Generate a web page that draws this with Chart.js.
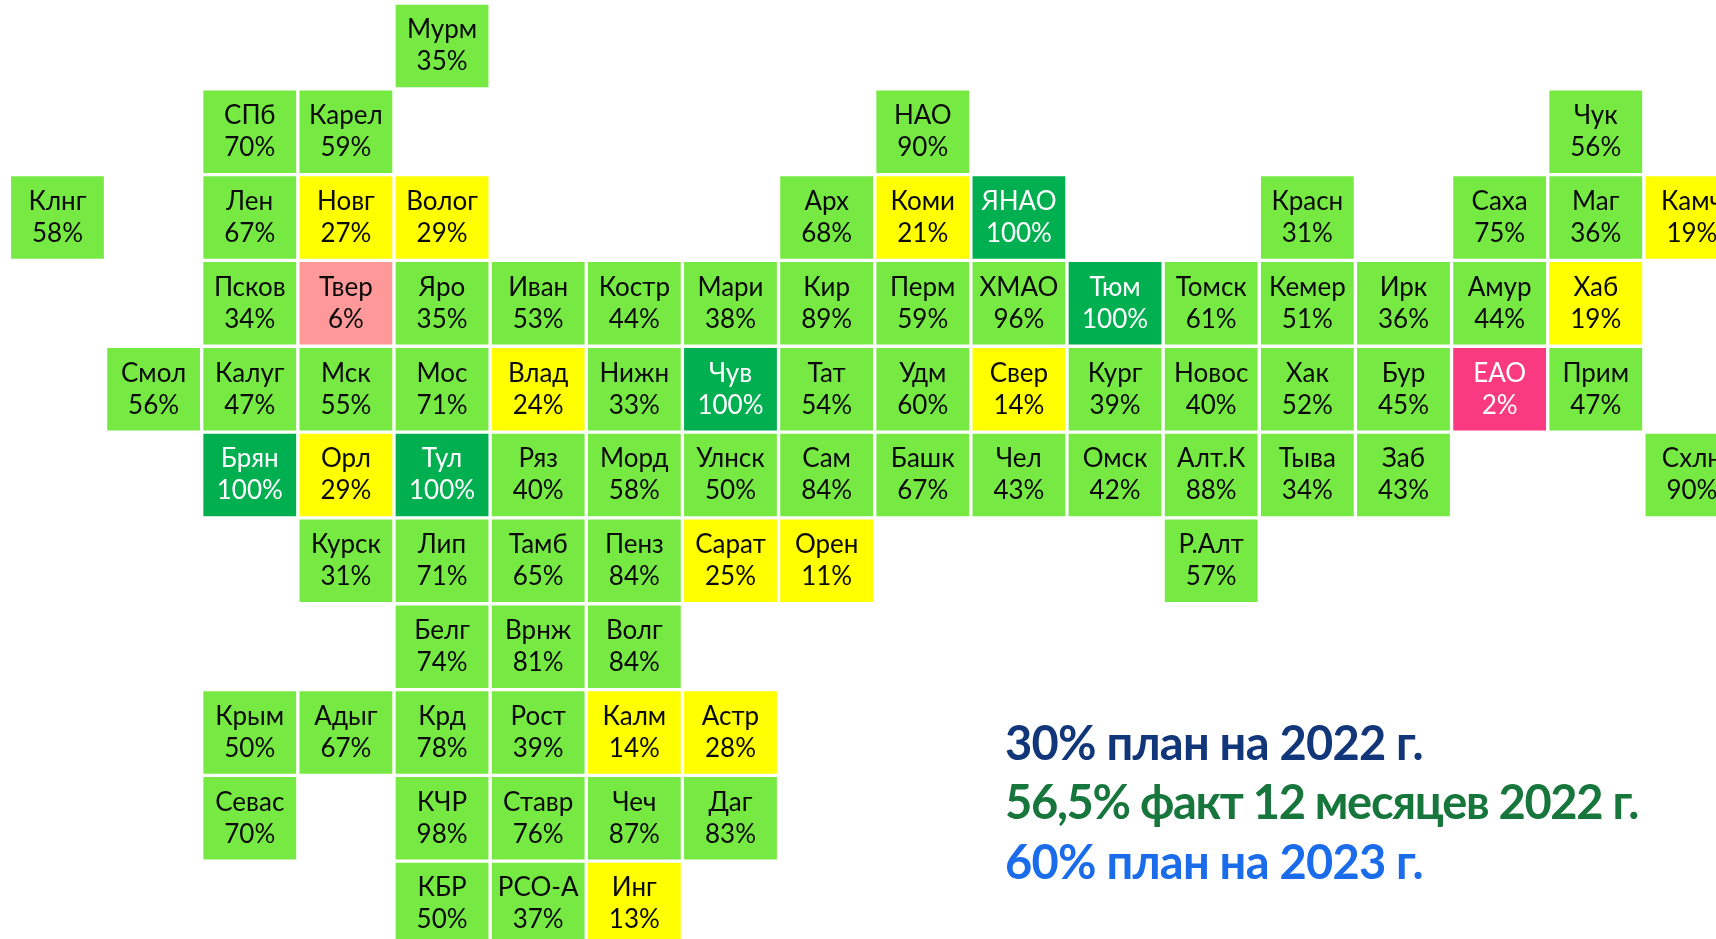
<!DOCTYPE html>
<html lang="ru"><head><meta charset="utf-8">
<style>html,body{margin:0;padding:0;background:#fff;overflow:hidden;width:1716px;height:939px}canvas{display:block}</style>
<script src="https://cdn.jsdelivr.net/npm/chart.js@4"></script></head><body>
<canvas id="c" width="1740" height="947" style="width:1740px;height:947px"></canvas>
<script>
const columnLabels = ['0','1','2','3','4','5','6','7','8','9','10','11','12','13','14','15','16','17'];
const regionNames = ['Мурм','СПб','Карел','НАО','Чук','Клнг','Лен','Новг','Волог','Арх','Коми','ЯНАО','Красн','Саха','Маг','Камч','Псков','Твер','Яро','Иван','Костр','Мари','Кир','Перм','ХМАО','Тюм','Томск','Кемер','Ирк','Амур','Хаб','Смол','Калуг','Мск','Мос','Влад','Нижн','Чув','Тат','Удм','Свер','Кург','Новос','Хак','Бур','ЕАО','Прим','Брян','Орл','Тул','Ряз','Морд','Улнск','Сам','Башк','Чел','Омск','Алт.К','Тыва','Заб','Схлн','Курск','Лип','Тамб','Пенз','Сарат','Орен','Р.Алт','Белг','Врнж','Волг','Крым','Адыг','Крд','Рост','Калм','Астр','Севас','КЧР','Ставр','Чеч','Даг','КБР','РСО-А','Инг'];
const regionValues = [35,70,59,90,56,58,67,27,29,68,21,100,31,75,36,19,34,6,35,53,44,38,89,59,96,100,61,51,36,44,19,56,47,55,71,24,33,100,54,60,14,39,40,52,45,2,47,100,29,100,40,58,50,84,67,43,42,88,34,43,90,31,71,65,84,25,11,57,74,81,84,50,67,78,39,14,28,70,98,76,87,83,50,37,13];
const regionCols = [4,2,3,9,16,0,2,3,4,8,9,10,13,15,16,17,2,3,4,5,6,7,8,9,10,11,12,13,14,15,16,1,2,3,4,5,6,7,8,9,10,11,12,13,14,15,16,2,3,4,5,6,7,8,9,10,11,12,13,14,17,3,4,5,6,7,8,12,4,5,6,2,3,4,5,6,7,2,4,5,6,7,4,5,6];
const regionRows = [0,1,1,1,1,2,2,2,2,2,2,2,2,2,2,2,3,3,3,3,3,3,3,3,3,3,3,3,3,3,3,4,4,4,4,4,4,4,4,4,4,4,4,4,4,4,4,5,5,5,5,5,5,5,5,5,5,5,5,5,5,6,6,6,6,6,6,6,7,7,7,8,8,8,8,8,8,9,9,9,9,9,10,10,10];
const captionTexts = ['30% план на 2022 г.','56,5% факт 12 месяцев 2022 г.','60% план на 2023 г.'];
const captionColors = ['#12367a','#17763c','#1a6ceb'];
const captionSpacing = ['-0.75px','-1.3px','-0.75px'];

function cellColor(v){
  if (v >= 100) return '#00b050';
  if (v >= 30) return '#76ea42';
  if (v >= 10) return '#ffff00';
  if (v >= 5) return '#ff9999';
  return '#f93a80';
}
const FONT = 'Lato, "Noto Sans", sans-serif';
const labelPlugin = {
  id: 'cellLabels',
  afterDatasetsDraw(chart){
    const ctx = chart.ctx, meta = chart.getDatasetMeta(0);
    ctx.save();
    ctx.textAlign = 'center';
    ctx.textBaseline = 'alphabetic';
    ctx.font = '26px ' + FONT;
    meta.data.forEach((el,i)=>{
      const p = el.getCenterPoint();
      const v = regionValues[i];
      ctx.fillStyle = (v >= 100 || v < 5) ? '#ffffff' : '#0a0a0a';
      ctx.fillText(regionNames[i], p.x, p.y - 7.6);
      ctx.fillText(v + '%', p.x, p.y + 24.4);
    });
    ctx.textAlign = 'left';
    ctx.font = 'bold 47px ' + FONT;
    const baselines = [760,819,879];
    captionTexts.forEach((t,i)=>{
      ctx.fillStyle = captionColors[i];
      ctx.letterSpacing = captionSpacing[i];
      ctx.fillText(t, 1005, baselines[i]);
    });
    ctx.restore();
  }
};
new Chart(document.getElementById('c'),{
  type:'bar',
  data:{labels:columnLabels,datasets:[{
    data:regionNames.map((n,i)=>({x:columnLabels[regionCols[i]],y:[regionRows[i],regionRows[i]+1]})),
    backgroundColor:regionValues.map(cellColor),
    borderColor:'#ffffff',borderWidth:2,borderSkipped:false,
    barPercentage:1,categoryPercentage:1,grouped:false
  }]},
  options:{
    responsive:false,animation:false,
    layout:{padding:{left:9.4,top:3,right:0,bottom:0}},
    plugins:{legend:{display:false},tooltip:{enabled:false}},
    scales:{
      x:{type:'category',display:false,offset:true},
      y:{type:'linear',display:false,min:0,max:11,reverse:true}
    }
  },
  plugins:[labelPlugin]
});
</script></body></html>
